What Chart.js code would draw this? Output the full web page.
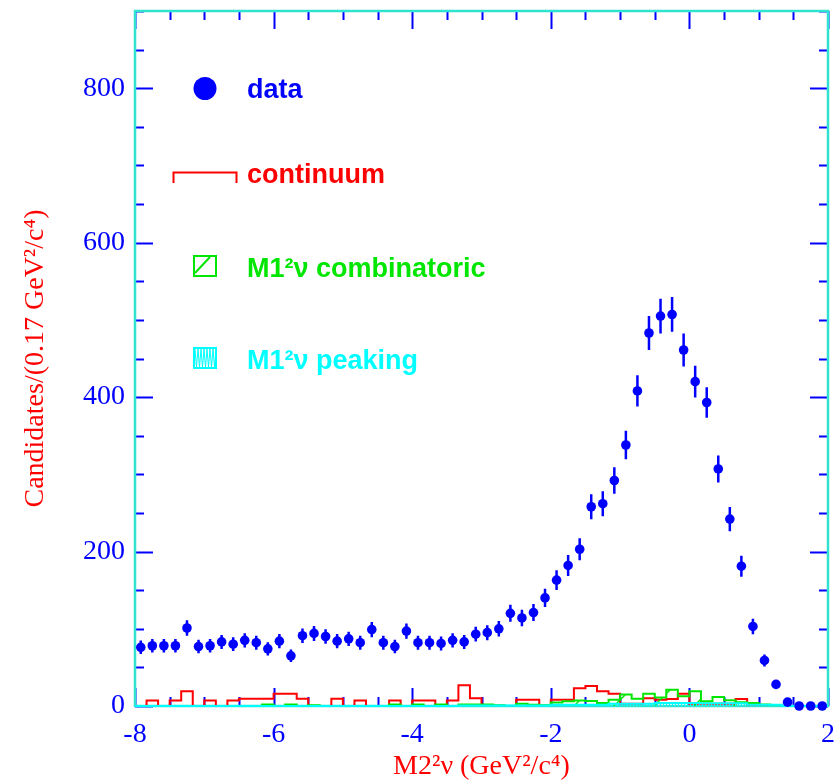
<!DOCTYPE html>
<html><head><meta charset="utf-8">
<script src="https://cdn.jsdelivr.net/npm/chart.js@4/dist/chart.umd.min.js"></script>
<style>html,body{margin:0;padding:0;background:#fff;}canvas{display:block;}</style>
</head><body>
<canvas id="c" width="840" height="783"></canvas>
<script>
// ---- categories (bins) ----
const X_MIN = -8, X_MAX = 2, N_BINS = 60;
const binWidth = (X_MAX - X_MIN) / N_BINS;
const binEdges = Array.from({length: N_BINS + 1}, (_, i) => X_MIN + i * binWidth);
const binCenters = binEdges.slice(0, -1).map(e => e + binWidth / 2);

// ---- series ----
const dataCounts = [76,78,78,78,101,77,78,83,80,85,82,74,84,65,91,94,90,84,87,82,
                    99,82,77,97,82,82,81,85,83,93,95,100,120,114,121,140,163,182,203,258,
                    262,292,338,408,483,505,507,461,420,393,307,242,181,103,59,28,5,0,0,0];
const dataErrors = [8.7,8.8,8.8,8.8,10.0,8.8,8.8,9.1,8.9,9.2,9.1,8.6,9.2,8.1,9.5,9.7,9.5,9.2,9.3,9.1,
                    9.9,9.1,8.8,9.8,9.1,9.1,9.0,9.2,9.1,9.6,9.7,10.0,11.0,10.7,11.0,11.8,12.8,13.5,14.2,16.1,
                    16.2,17.1,18.4,20.2,22.0,22.5,22.5,21.5,20.5,19.8,17.5,15.6,13.5,10.1,7.7,5.3,2.2,0,0,0];
const continuum = [0,7,0,7,19,0,7,0,7,9.5,9.5,9.5,16,16,9.5,0,0,9.5,0,7,
                   0,0,7,0,7,7,0,7,27,10,0,0,0,8,8,0,8,8,23,26,
                   19,16,3,3,10,8,9,16,3,3,3,3,9,0,0,0,0,0,0,0];
const combinatoric = [0,0,0,0,0,0,0,0,0,0,0,2,0,2,0,1,0,0,0,0,
                      0,0,2,0,2,0,2,0,2,2,2,1,0,3,1.5,1,4.5,6,7,6.5,
                      4,8,15,9.5,16,11,21,12.5,19,6,11.5,7.5,5,4,2,0,0,0,0,0];
const peaking = [0,0,0,0,0,0,0,0,0,0,0,0,0,0,0,0,0,0,0,0,
                 0,0,0,0,0,0,0,0,0.5,0.5,0.5,0.5,0.5,0.5,0.5,0.5,1.5,1.5,1.5,1.5,
                 1.5,3,3,3,3,4,4,4,4,3.5,3.5,3.5,3.5,1.5,1.5,1.5,0,0,0,0];

// ---- tick labels ----
const xTickLabels = [-8, -6, -4, -2, 0, 2];
const yTickLabels = [0, 200, 400, 600, 800];
const Y_MAX = 900;

const BLUE = '#0000ff', RED = '#ff0000', GREEN = '#00e600', CYAN = '#00ffff', FRAME = '#30e2d0';
const SERIF = '"Liberation Serif", "Times New Roman", serif';
const SANS = '"Liberation Sans", Arial, sans-serif';

function makePattern(draw, w, h) {
  const c = document.createElement('canvas'); c.width = w; c.height = h;
  draw(c.getContext('2d'), w, h);
  return c.getContext('2d').createPattern(c, 'repeat');
}
const greenHatch = makePattern((g, w, h) => {
  g.strokeStyle = GREEN; g.lineWidth = 1.5;
  g.beginPath(); g.moveTo(0, h); g.lineTo(w, 0); g.stroke();
}, 40, 40);
const cyanHatch = makePattern((g, w, h) => {
  g.strokeStyle = CYAN; g.lineWidth = 1;
  g.beginPath(); g.moveTo(0.5, 0); g.lineTo(0.5, h); g.stroke();
}, 3, 3);

function histPoints(vals) {
  return binEdges.map((e, i) => ({x: e, y: vals[Math.min(i, N_BINS - 1)]}));
}

const framePlugin = {
  id: 'frameTicks',
  beforeDatasetsDraw(chart) {
    const {ctx, chartArea: a, scales: {x, y}} = chart;
    ctx.save();
    ctx.strokeStyle = BLUE; ctx.lineWidth = 2;
    ctx.beginPath();
    for (let k = 0; k <= (X_MAX - X_MIN) * 2; k++) {
      const v = X_MIN + k * 0.5;
      const px = Math.round(x.getPixelForValue(v)) + 0.5;
      const L = (k % 4 === 0) ? 18 : 9;
      ctx.moveTo(px, a.bottom); ctx.lineTo(px, a.bottom - L);
      ctx.moveTo(px, a.top); ctx.lineTo(px, a.top + L);
    }
    for (let v = 0; v <= Y_MAX; v += 50) {
      const py = Math.round(y.getPixelForValue(v)) + 0.5;
      const L = (v % 200 === 0) ? 18 : 9;
      ctx.moveTo(a.left, py); ctx.lineTo(a.left + L, py);
      ctx.moveTo(a.right, py); ctx.lineTo(a.right - L, py);
    }
    ctx.stroke();
    ctx.strokeStyle = FRAME; ctx.lineWidth = 2.5;
    ctx.strokeRect(a.left, a.top, a.right - a.left, a.bottom - a.top);
    ctx.restore();
  },
  beforeDatasetDraw(chart, args) {
    if (args.index !== 0) return;
    const {ctx, scales: {x, y}} = chart;
    ctx.save();
    ctx.strokeStyle = BLUE; ctx.lineWidth = 2.5;
    ctx.beginPath();
    binCenters.forEach((c, i) => {
      if (!dataErrors[i]) return;
      const px = x.getPixelForValue(c);
      ctx.moveTo(px, y.getPixelForValue(dataCounts[i] - dataErrors[i]));
      ctx.lineTo(px, y.getPixelForValue(dataCounts[i] + dataErrors[i]));
    });
    ctx.stroke();
    ctx.restore();
  },
  afterDraw(chart) {
    const ctx = chart.ctx;
    ctx.save();
    ctx.font = 'bold 27px ' + SANS;
    ctx.textBaseline = 'alphabetic';
    ctx.textAlign = 'left';
    // data
    ctx.fillStyle = BLUE;
    ctx.beginPath(); ctx.arc(205, 88.5, 11.5, 0, 2 * Math.PI); ctx.fill();
    ctx.fillText('data', 247, 97.5);
    // continuum
    ctx.strokeStyle = RED; ctx.lineWidth = 2;
    ctx.beginPath();
    ctx.moveTo(173.5, 183); ctx.lineTo(173.5, 172.5); ctx.lineTo(236.5, 172.5); ctx.lineTo(236.5, 183);
    ctx.stroke();
    ctx.fillStyle = RED;
    ctx.fillText('continuum', 247, 183);
    // combinatoric
    ctx.strokeStyle = GREEN; ctx.lineWidth = 2;
    ctx.strokeRect(194, 256, 22, 20);
    ctx.beginPath(); ctx.moveTo(195, 273); ctx.lineTo(210, 257); ctx.stroke();
    ctx.fillStyle = GREEN;
    ctx.fillText('M1\u00B2\u03BD combinatoric', 247, 276.5);
    // peaking
    ctx.strokeStyle = CYAN; ctx.lineWidth = 2;
    ctx.strokeRect(194, 348, 22, 20);
    ctx.lineWidth = 1;
    ctx.beginPath();
    for (let xx = 195; xx < 215; xx += 3) {
      ctx.moveTo(xx, 349); ctx.lineTo(xx + 1.5, 367); ctx.lineTo(xx + 3, 349);
    }
    ctx.stroke();
    ctx.fillStyle = CYAN;
    ctx.fillText('M1\u00B2\u03BD peaking', 247, 368.5);
    ctx.restore();
  }
};

new Chart(document.getElementById('c'), {
  type: 'scatter',
  data: {
    datasets: [
      {
        label: 'data', type: 'scatter', order: 0, clip: false,
        data: binCenters.map((c, i) => ({x: c, y: dataCounts[i]})),
        pointRadius: 4.8, pointBackgroundColor: BLUE, pointBorderColor: BLUE, pointBorderWidth: 0,
        showLine: false
      },
      {
        label: 'M1\u00B2\u03BD peaking', type: 'line', order: 1, stepped: true,
        data: histPoints(peaking), borderColor: CYAN, borderWidth: 2, pointRadius: 0,
        fill: 'origin', backgroundColor: cyanHatch, clip: 3
      },
      {
        label: 'M1\u00B2\u03BD combinatoric', type: 'line', order: 2, stepped: true,
        data: histPoints(combinatoric), borderColor: GREEN, borderWidth: 2, pointRadius: 0,
        fill: 'origin', backgroundColor: greenHatch
      },
      {
        label: 'continuum', type: 'line', order: 3, stepped: true,
        data: histPoints(continuum), borderColor: RED, borderWidth: 2, pointRadius: 0,
        fill: false
      }
    ]
  },
  options: {
    responsive: false, animation: false, devicePixelRatio: 1,
    layout: {padding: {top: 11, right: 12, left: 0, bottom: 0}},
    plugins: {legend: {display: false}, tooltip: {enabled: false}},
    scales: {
      x: {
        type: 'linear', min: X_MIN, max: X_MAX,
        afterBuildTicks: s => { s.ticks = xTickLabels.map(v => ({value: v})); },
        afterFit: s => { s.height = 77; s.paddingLeft = 0; s.paddingRight = 0; s.paddingTop = 0; s.paddingBottom = 0; },
        grid: {display: false, drawTicks: false},
        border: {display: false},
        ticks: {color: BLUE, font: {family: SERIF, size: 28}, padding: 12, maxRotation: 0},
        title: {display: true, text: 'M2\u00B2\u03BD (GeV\u00B2/c\u2074)', color: RED,
                font: {family: SERIF, size: 28, lineHeight: 1.2}, padding: {top: 0, bottom: 0}}
      },
      y: {
        type: 'linear', min: 0, max: Y_MAX,
        afterBuildTicks: s => { s.ticks = yTickLabels.map(v => ({value: v})); },
        afterFit: s => { s.width = 135; s.paddingLeft = 0; s.paddingRight = 0; s.paddingTop = 0; s.paddingBottom = 0; },
        grid: {display: false, drawTicks: false},
        border: {display: false},
        ticks: {color: BLUE, font: {family: SERIF, size: 28}, padding: 10},
        title: {display: true, text: 'Candidates/(0.17 GeV\u00B2/c\u2074)', color: RED,
                font: {family: SERIF, size: 28, lineHeight: 1.2}, padding: {top: 19, bottom: 0}}
      }
    }
  },
  plugins: [framePlugin]
});
</script>
</body></html>
